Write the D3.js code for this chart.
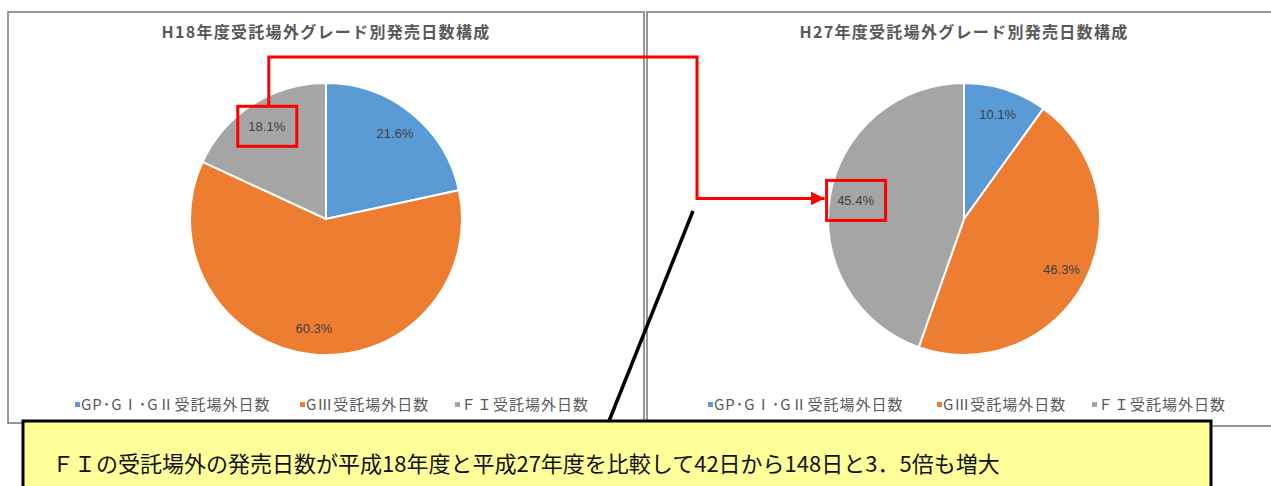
<!DOCTYPE html>
<html>
<head>
<meta charset="utf-8">
<script src="https://cdn.jsdelivr.net/npm/d3@7"></script>
<style>
  body { margin: 0; background: #fff; }
  svg { display: block; }
  .title { font-family: "Noto Sans CJK JP", sans-serif; font-size: 16px; font-weight: bold; fill: #595959; letter-spacing: 1.3px; }
  .pct { font-family: "Liberation Sans Narrow", "Liberation Sans", sans-serif; font-size: 13px; fill: #404040; }
  .legend text { font-family: "Noto Sans CJK JP", sans-serif; font-size: 15px; fill: #595959; letter-spacing: 1px; }
  .note { font-family: "Noto Sans CJK JP", sans-serif; font-size: 22px; fill: #111; }
</style>
</head>
<body>
<div id="chart"></div>
<script>
// categories (legend order)
var categories = ["GP･GⅠ･GⅡ受託場外日数", "GⅢ受託場外日数", "ＦＩ受託場外日数"];
var colors = ["#5b9bd5", "#ed7d31", "#a5a5a5"];

// series values (percent shares)
var h18Values = [21.6, 60.3, 18.1];
var h27Values = [10.1, 46.3, 45.4];
var h18Labels = ["21.6%", "60.3%", "18.1%"];
var h27Labels = ["10.1%", "46.3%", "45.4%"];

var titles = ["H18年度受託場外グレード別発売日数構成", "H27年度受託場外グレード別発売日数構成"];
var noteText = "ＦＩの受託場外の発売日数が平成18年度と平成27年度を比較して42日から148日と3．5倍も増大";

var W = 1271, H = 486;
var svg = d3.select("#chart").append("svg").attr("width", W).attr("height", H);

var panels = [
  {x: 8, y: 12, w: 636, h: 411, cx: 326, cy: 219, values: h18Values, labels: h18Labels, title: titles[0], legendX: [75, 300, 455]},
  {x: 647, y: 12, w: 640, h: 414, cx: 964, cy: 219, values: h27Values, labels: h27Labels, title: titles[1], legendX: [708, 937, 1092]}
];
var R = 136;

var pie = d3.pie().sort(null).value(function(d) { return d; });
var arc = d3.arc().innerRadius(0).outerRadius(R);
var labelArc = d3.arc().innerRadius(110).outerRadius(110);

var labelPos = [];

panels.forEach(function(p, pi) {
  var g = svg.append("g");
  g.append("rect")
    .attr("x", p.x).attr("y", p.y).attr("width", p.w).attr("height", p.h)
    .style("fill", "#fff").style("stroke", "#767676").style("stroke-width", 1.5);

  g.append("text").attr("class", "title")
    .attr("x", p.cx).attr("y", 38)
    .attr("text-anchor", "middle")
    .text(p.title);

  var pg = g.append("g").attr("transform", "translate(" + p.cx + "," + p.cy + ")");
  var arcs = pie(p.values);
  pg.selectAll("path").data(arcs).enter().append("path")
    .attr("d", arc)
    .style("fill", function(d, i) { return colors[i]; })
    .style("stroke", "#fff").style("stroke-width", 2);

  pg.selectAll("text").data(arcs).enter().append("text")
    .attr("class", "pct")
    .attr("text-anchor", "middle")
    .attr("dy", "0.35em")
    .attr("transform", function(d) { return "translate(" + labelArc.centroid(d) + ")"; })
    .text(function(d, i) { return p.labels[i]; });

  // remember FI label position for the annotation
  var c = labelArc.centroid(arcs[2]);
  labelPos.push([p.cx + c[0], p.cy + c[1]]);

  var lg = g.append("g").attr("class", "legend");
  categories.forEach(function(c, i) {
    lg.append("rect")
      .attr("x", p.legendX[i]).attr("y", 402).attr("width", 5).attr("height", 5)
      .style("fill", colors[i]);
    lg.append("text")
      .attr("x", p.legendX[i] + 6).attr("y", 410)
      .text(c);
  });
});

// red annotation boxes and connector
var ann = svg.append("g");
labelPos.forEach(function(lp) {
  ann.append("rect")
    .attr("x", lp[0] - 29).attr("y", lp[1] - 20).attr("width", 59).attr("height", 40)
    .style("fill", "none").style("stroke", "#ff0000").style("stroke-width", 3);
});
svg.append("defs").append("marker")
  .attr("id", "arrow").attr("viewBox", "0 0 10 10")
  .attr("refX", 10).attr("refY", 5)
  .attr("markerWidth", 4.5).attr("markerHeight", 4.5)
  .attr("orient", "auto")
  .append("path").attr("d", "M0,0 L10,5 L0,10 Z").style("fill", "#ff0000");

var a = labelPos[0], b = labelPos[1];
var elbowX = 697, topY = 57;
ann.append("path")
  .attr("d", "M" + (a[0] + 2) + "," + (a[1] - 20) + " V" + topY + " H" + elbowX +
             " V" + (b[1] - 2) + " H" + (b[0] - 31))
  .style("fill", "none").style("stroke", "#ff0000").style("stroke-width", 3)
  .attr("marker-end", "url(#arrow)");

// black pointer line from callout
svg.append("line")
  .attr("x1", 609).attr("y1", 421).attr("x2", 693).attr("y2", 211)
  .style("stroke", "#000").style("stroke-width", 3.5);

// yellow callout
var note = svg.append("g");
note.append("rect")
  .attr("x", 23).attr("y", 421).attr("width", 1188).attr("height", 80)
  .style("fill", "#ffff99").style("stroke", "#000").style("stroke-width", 3);
note.append("text").attr("class", "note")
  .attr("x", 52).attr("y", 472)
  .text(noteText);
</script>
</body>
</html>
